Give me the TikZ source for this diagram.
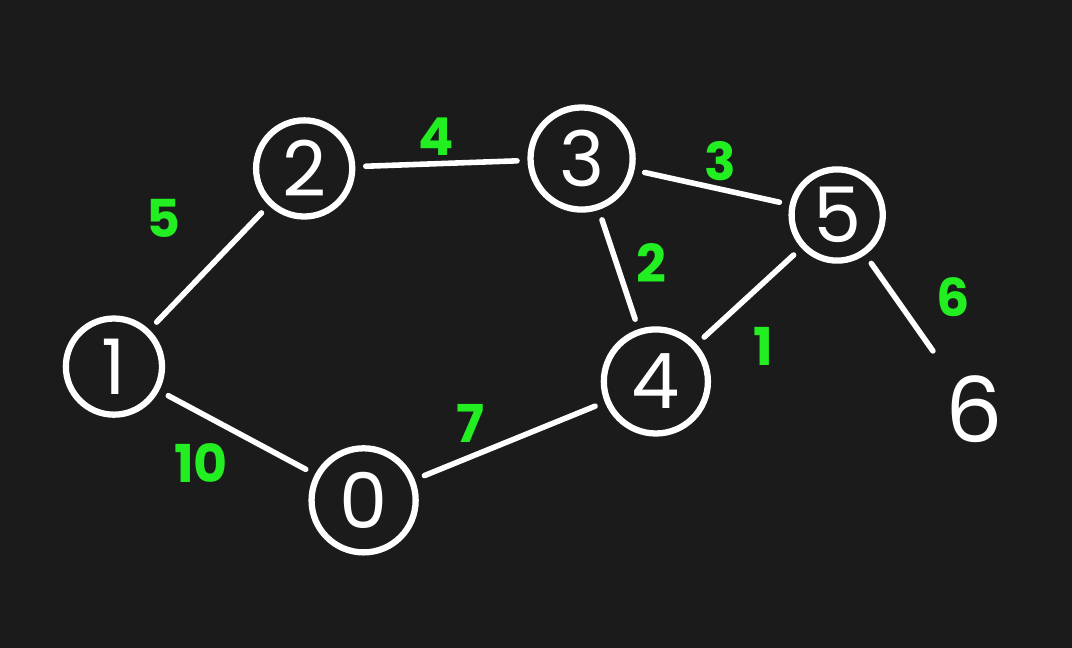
\documentclass[tikz,border=0pt]{standalone}
\usepackage{fontspec}
\setmainfont{Poppins}
\begin{document}
\begin{tikzpicture}[x=0.01cm,y=-0.01cm,
  vert/.style={circle,draw=white,line width=1.8pt,text=white,minimum size=0.97cm,inner sep=0pt,font=\fontsize{22}{22}\selectfont},
  plain/.style={text=white,inner sep=2pt,font=\fontsize{26}{26}\selectfont},
  edge/.style={draw=white,line width=1.6pt,line cap=round,shorten <=3pt,shorten >=3pt},
  wt/.style={text=lbl,font=\bfseries\fontsize{15}{15}\selectfont}]
\definecolor{bg}{HTML}{1B1B1B}
\definecolor{lbl}{HTML}{22EE22}
\fill[bg] (-5,-5) rectangle (1077,649);
\useasboundingbox (0,0) rectangle (1072,644);
\node[vert] (n1) at (110,365) {1};
\node[vert] (n2) at (302,165) {2};
\node[vert,minimum size=1.03cm] (n3) at (582,155) {3};
\node[vert,minimum size=0.92cm] (n5) at (840,212) {5};
\node[vert,minimum size=1.05cm] (n4) at (657,380) {4};
\node[vert,minimum size=1.05cm] (n0) at (362,500) {0};
\node[plain] (n6) at (978,408) {6};
\draw[edge] (n1) -- (n2);
\draw[edge] (n2) -- (n3);
\draw[edge] (n3) -- (n5);
\draw[edge] (n3) -- (n4);
\draw[edge] (n5) -- (n4);
\draw[edge,shorten >=6pt] (n5) -- (n6);
\draw[edge] (n1) -- (n0);
\draw[edge] (n0) -- (n4);
\node[wt] (w12) at (160,215) {5};
\node[wt] (w23) at (435,133) {4};
\node[wt] (w35) at (722,158) {3};
\node[wt] (w34) at (652,260) {2};
\node[wt] (w54) at (765,345) {1};
\node[wt] (w56) at (957,295) {6};
\node[wt] (w10) at (198,462) {10};
\node[wt] (w04) at (470,422) {7};
\end{tikzpicture}
\end{document}
